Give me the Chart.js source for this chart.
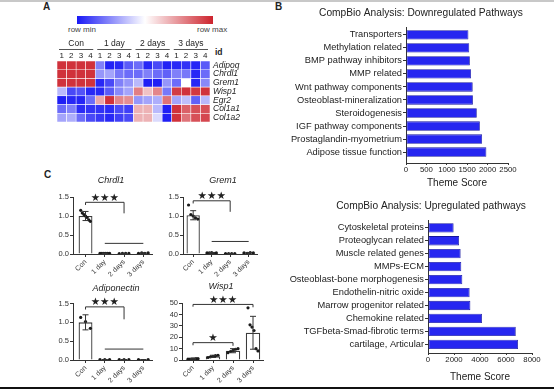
<!DOCTYPE html>
<html>
<head>
<meta charset="utf-8">
<script src="https://cdn.jsdelivr.net/npm/chart.js@4.4.1/dist/chart.umd.min.js"></script>
<style>
  body { margin: 0; background: #fff; }
  #page { position: relative; width: 554px; height: 391px; overflow: hidden; font-family: "Liberation Sans", Arial, sans-serif; color: #222; }
  #page canvas { position: absolute; }
  .txt { position: absolute; white-space: nowrap; line-height: 1; }
  .topline { position: absolute; left: 0; top: 0; width: 554px; height: 2px; background: #c8c8c8; }
  .botline { position: absolute; left: 0; top: 387px; width: 554px; height: 2px; background: #111; }
  .colorbar { position: absolute; left: 77px; top: 16px; width: 136px; height: 8px;
    background: linear-gradient(to right, rgb(25,25,245), #fff 50%, rgb(205,35,45)); }
</style>
</head>
<body>
<div id="page">
  <div class="topline"></div>
  <div class="botline"></div>
  <div class="txt" style="left:43px;top:2px;font-weight:bold;font-size:10px">A</div>
  <div class="txt" style="left:275px;top:2px;font-weight:bold;font-size:10px">B</div>
  <div class="txt" style="left:44px;top:170px;font-weight:bold;font-size:10px">C</div>
  <div class="colorbar"></div>
  <div class="txt" style="left:68px;top:26px;font-size:8px;color:#444">row min</div>
  <div class="txt" style="left:197px;top:26px;font-size:8px;color:#444">row max</div>
  <div class="txt" style="left:215px;top:48px;font-size:8.5px;font-weight:bold">id</div>
  <canvas id="heat" width="200" height="94" style="left:57px;top:36px"></canvas>
  <canvas id="down" width="298" height="190" style="left:272px;top:4px"></canvas>
  <canvas id="up" width="318" height="190" style="left:272px;top:196px"></canvas>
  <canvas id="chrdl1" width="122" height="108" style="left:50px;top:172px"></canvas>
  <canvas id="grem1" width="126" height="108" style="left:160px;top:172px"></canvas>
  <canvas id="adipo" width="132" height="110" style="left:50px;top:278px"></canvas>
  <canvas id="wisp1" width="124" height="110" style="left:159px;top:278px"></canvas>
</div>
<script>
// ---- A: heatmap (row scaled, 0 = row min, 1 = row max) ----
const heatGenes = ['Adipoq', 'Chrdl1', 'Grem1', 'Wisp1', 'Egr2', 'Col1a1', 'Col1a2'];
const heatGroups = ['Con', '1 day', '2 days', '3 days'];
const heatReps = ['1', '2', '3', '4'];
const adipoqRow = [0.95, 0.95, 0.95, 0.95, 0.3, 0.03, 0.05, 0.2, 0.25, 0.05, 0.15, 0.03, 0.05, 0.08, 0.04, 0.2];
const chrdl1Row = [0.95, 0.95, 0.95, 0.95, 0.35, 0.38, 0.28, 0.25, 0.25, 0.3, 0.25, 0.22, 0.3, 0.28, 0.05, 0.25];
const grem1Row = [0.95, 0.95, 0.95, 0.95, 0.05, 0.15, 0.3, 0.35, 0.42, 0.02, 0.02, 0.35, 0.25, 0.5, 0.05, 0.32];
const wisp1Row = [0.42, 0.15, 0.18, 0.05, 0.05, 0.2, 0.32, 0.38, 0.72, 0.57, 0.7, 0.28, 0.92, 0.95, 0.93, 0.95];
const egr2Row = [0.02, 0.05, 0.04, 0.25, 0.62, 0.95, 0.7, 0.68, 0.35, 0.38, 0.4, 0.75, 0.38, 0.43, 0.22, 0.42];
const col1a1Row = [0.25, 0.3, 0.06, 0.08, 0.08, 0.06, 0.15, 0.12, 0.6, 0.6, 0.42, 0.02, 0.95, 0.8, 0.85, 0.85];
const col1a2Row = [0.38, 0.4, 0.25, 0.15, 0.1, 0.05, 0.12, 0.15, 0.6, 0.6, 0.47, 0.02, 0.95, 0.75, 0.85, 0.88];
const heatRows = [adipoqRow, chrdl1Row, grem1Row, wisp1Row, egr2Row, col1a1Row, col1a2Row];

// ---- B: CompBio theme scores ----
const downPathways = ['Transporters', 'Methylation related', 'BMP pathway inhibitors', 'MMP related',
  'Wnt pathway components', 'Osteoblast-mineralization', 'Steroidogenesis', 'IGF pathway components',
  'Prostaglandin-myometrium', 'Adipose tissue function'];
const downScores = [1530, 1550, 1565, 1595, 1635, 1640, 1735, 1810, 1865, 1970];
const upPathways = ['Cytoskeletal proteins', 'Proteoglycan related', 'Muscle related genes', 'MMPs-ECM',
  'Osteoblast-bone morphogenesis', 'Endothelin-nitric oxide', 'Marrow progenitor related',
  'Chemokine related', 'TGFbeta-Smad-fibrotic terms', 'cartilage, Articular'];
const upScores = [1970, 2390, 2510, 2560, 2640, 3200, 3260, 4150, 6750, 6920];

// ---- C: qPCR ----
const timeLabels = ['Con', '1 day', '2 days', '3 days'];
const chrdl1Mean = [1.0, 0.02, 0.015, 0.025];
const chrdl1Sd = [0.12, 0.005, 0.005, 0.008];
const chrdl1Points = [[1.15, 1.08, 1.04, 1.0, 0.96, 0.9, 0.86], [0.02, 0.02, 0.02, 0.02, 0.02, 0.02], [0.01, 0.015, 0.02, 0.015], [0.02, 0.03, 0.02, 0.03]];
const grem1Mean = [1.02, 0.03, 0.01, 0.03];
const grem1Sd = [0.12, 0.008, 0.004, 0.008];
const grem1Points = [[1.29, 1.04, 1.0, 0.95, 0.92], [0.03, 0.03, 0.04, 0.02, 0.03], [0.01, 0.01, 0.01, 0.01], [0.03, 0.02, 0.04, 0.03]];
const adipoMean = [1.0, 0.01, 0.01, 0.01];
const adipoSd = [0.2, 0.003, 0.003, 0.003];
const adipoPoints = [[1.13, 1.02, 0.84], [0.01, 0.01, 0.01], [0.01, 0.01, 0.01], [0.01, 0.01]];
const wisp1Mean = [1.0, 3.2, 8.2, 24];
const wisp1Sd = [0.3, 1.0, 1.8, 14.5];
const wisp1Points = [[0.7, 0.9, 1.0, 1.1, 1.2, 1.3], [2.2, 2.8, 3.3, 3.8, 4.2], [6.5, 7.5, 8.5, 9.5, 10], [46, 31, 29, 26, 10, 8]];

Chart.defaults.font.family = '"Liberation Sans", Arial, sans-serif';
Chart.defaults.color = '#222';
Chart.defaults.animation = false;
Chart.defaults.responsive = false;
Chart.defaults.plugins.legend.display = false;
Chart.defaults.plugins.tooltip.enabled = false;

// blue - white - red, a bit more saturated away from the middle
function heatColor(v) {
    const blue = [25, 25, 245], red = [205, 35, 45];
    const end = v < 0.5 ? blue : red;
    const t = Math.pow(Math.abs(v - 0.5) / 0.5, 0.65);
    const c = end.map(x => Math.round(255 + (x - 255) * t));
    return 'rgb(' + c.join(',') + ')';
}

// empty axis on the right, only used to keep the title centred where the figure has it
function spacerAxis(width) {
    return {
        type: 'linear', position: 'right', display: true,
        grid: { display: false, drawTicks: false }, border: { display: false },
        ticks: { display: false },
        afterFit: s => { s.width = width; }
    };
}

const heatGroupLabels = {
    id: 'heatGroupLabels',
    afterDraw(chart) {
        const { ctx, chartArea } = chart;
        const x = chart.scales.x;
        const half = (x.getPixelForValue(1) - x.getPixelForValue(0)) / 2;
        ctx.save();
        ctx.font = '8.5px "Liberation Sans", Arial, sans-serif';
        ctx.fillStyle = '#222';
        ctx.strokeStyle = '#555';
        ctx.lineWidth = 1;
        ctx.textAlign = 'center';
        ctx.textBaseline = 'middle';
        heatGroups.forEach((g, k) => {
            const l = x.getPixelForValue(k * 4) - half + 2;
            const r = x.getPixelForValue(k * 4 + 3) + half - 2;
            ctx.beginPath();
            ctx.moveTo(l, chartArea.top - 11.5);
            ctx.lineTo(r, chartArea.top - 11.5);
            ctx.stroke();
            ctx.fillText(g, (l + r) / 2, chartArea.top - 17);
        });
        ctx.restore();
    }
};

new Chart(document.getElementById('heat'), {
    type: 'bar',
    data: {
        labels: heatGroups.flatMap(() => heatReps),
        datasets: heatRows.map((row, r) => ({
            label: heatGenes[r],
            data: row.map(() => 1),
            backgroundColor: row.map(heatColor),
            borderColor: '#fff',
            borderWidth: 0.6,
            borderSkipped: false,
            barPercentage: 1,
            categoryPercentage: 1
        }))
    },
    options: {
        layout: { padding: { left: 0, right: 0, top: 0, bottom: 2 } },
        scales: {
            x: {
                stacked: true, position: 'top',
                grid: { display: false, drawTicks: false }, border: { display: false },
                ticks: { font: { size: 8 }, color: '#222', padding: 0, maxRotation: 0, autoSkip: false },
                afterFit: s => { s.height = 25; }
            },
            y: {
                stacked: true, position: 'right', min: 0, max: 7, reverse: true,
                grid: { display: false, drawTicks: false }, border: { display: false },
                afterBuildTicks: s => { s.ticks = heatGenes.map((g, i) => ({ value: i + 0.5 })); },
                ticks: { callback: (v, i) => heatGenes[i], font: { size: 8.5, style: 'italic' }, color: '#222', padding: 3, autoSkip: false },
                afterFit: s => { s.width = 47; }
            }
        }
    },
    plugins: [heatGroupLabels]
});

function pathwayChart(canvasId, title, names, scores, xMax, xStep, box) {
    return new Chart(document.getElementById(canvasId), {
        type: 'bar',
        data: {
            datasets: [{
                data: scores.map((v, i) => ({ x: v, y: i })),
                backgroundColor: '#2626f0',
                borderColor: '#16169e',
                borderWidth: 0.8,
                borderSkipped: false,
                barPercentage: 0.72,
                categoryPercentage: 1
            }]
        },
        options: {
            indexAxis: 'y',
            layout: { padding: 0 },
            plugins: {
                title: {
                    display: true, text: title, color: '#222',
                    font: { size: 10.2, weight: 'normal' },
                    padding: { top: box.titleTop, bottom: box.titleBottom }
                }
            },
            scales: {
                x: {
                    type: 'linear', min: 0, max: xMax,
                    ticks: { stepSize: xStep, callback: v => String(v), font: { size: 7.8 }, color: '#222', padding: 0, maxRotation: 0 },
                    grid: { drawOnChartArea: false, tickLength: 2, color: '#333' },
                    border: { color: '#333' },
                    title: { display: true, text: 'Theme Score', font: { size: 10 }, color: '#222', padding: { top: 0, bottom: box.scoreBottom } },
                    afterFit: s => { s.height = box.xH; }
                },
                y: {
                    type: 'linear', reverse: true, min: -0.6, max: box.yMax, offset: false,
                    afterBuildTicks: s => { s.ticks = names.map((n, i) => ({ value: i })); },
                    ticks: { callback: (v, i) => names[i], font: { size: 9.3 }, color: '#222', padding: 1, autoSkip: false },
                    grid: { drawOnChartArea: false, tickLength: 3, color: '#333', offset: false },
                    border: { color: '#333' },
                    afterFit: s => { s.width = box.yW; }
                },
                pad: spacerAxis(box.padR)
            }
        }
    });
}

pathwayChart('down', 'CompBio Analysis: Downregulated Pathways', downPathways, downScores, 2500, 500,
    { padR: 62, yW: 134, titleTop: 2.9, titleBottom: 7.9, xH: 31, scoreBottom: 5, yMax: 9.84 });
pathwayChart('up', 'CompBio Analysis: Upregulated pathways', upPathways, upScores, 8000, 2000,
    { padR: 58, yW: 156, titleTop: 3.9, titleBottom: 7.9, xH: 33, scoreBottom: 3, yMax: 9.67 });

// error bars, significance brackets
const qpcrMarks = {
    id: 'qpcrMarks',
    afterDatasetsDraw(chart, args, opts) {
        const { ctx } = chart;
        const x = chart.scales.x, y = chart.scales.y;
        ctx.save();
        ctx.strokeStyle = '#333';
        ctx.lineWidth = 1;
        opts.mean.forEach((m, i) => {
            const px = x.getPixelForValue(i);
            const top = y.getPixelForValue(m + opts.sd[i]);
            const bot = y.getPixelForValue(Math.max(0, m - opts.sd[i]));
            ctx.beginPath();
            ctx.moveTo(px, top); ctx.lineTo(px, bot);
            ctx.moveTo(px - 3, top); ctx.lineTo(px + 3, top);
            ctx.moveTo(px - 3, bot); ctx.lineTo(px + 3, bot);
            ctx.stroke();
        });
        ctx.fillStyle = '#222';
        ctx.textAlign = 'center';
        ctx.textBaseline = 'bottom';
        ctx.font = '10.5px "DejaVu Sans", sans-serif';
        opts.marks.forEach(mk => {
            const x1 = x.getPixelForValue(mk.from), x2 = x.getPixelForValue(mk.to);
            const py = y.getPixelForValue(mk.y);
            ctx.beginPath();
            if (mk.dropL !== undefined) { ctx.moveTo(x1, y.getPixelForValue(mk.dropL)); ctx.lineTo(x1, py); }
            else ctx.moveTo(x1, py);
            ctx.lineTo(x2, py);
            if (mk.dropR !== undefined) ctx.lineTo(x2, y.getPixelForValue(mk.dropR));
            ctx.stroke();
            if (mk.text) ctx.fillText(mk.text, (x1 + x2) / 2, py + 1);
        });
        ctx.restore();
    }
};

function spread(j, n) {
    return n > 1 ? (j / (n - 1) - 0.5) * 0.5 : 0;
}

function qpcrChart(canvasId, title, mean, sd, points, yMax, yStep, decimals, marks, box) {
    return new Chart(document.getElementById(canvasId), {
        type: 'bar',
        data: {
            datasets: [
                {
                    type: 'bar', data: mean.map((v, i) => ({ x: i, y: v })),
                    backgroundColor: '#fff', borderColor: '#3c3c3c', borderWidth: 1.3,
                    barPercentage: 0.72, categoryPercentage: 1, order: 2
                },
                {
                    type: 'scatter',
                    data: points.flatMap((grp, i) => grp.map((v, j) => ({ x: i + spread(j, grp.length), y: v }))),
                    pointBackgroundColor: '#1a1a1a', pointBorderWidth: 0, pointRadius: 1.6, order: 1
                }
            ]
        },
        options: {
            layout: { padding: 0 },
            plugins: {
                title: {
                    display: true, text: title, color: '#222',
                    font: { size: 9, style: 'italic', weight: 'normal' },
                    padding: { top: box.titleTop, bottom: box.titleBottom }
                },
                qpcrMarks: { mean, sd, marks }
            },
            scales: {
                x: {
                    type: 'linear', min: box.xMin, max: box.xMax, offset: false,
                    afterBuildTicks: s => { s.ticks = timeLabels.map((t, i) => ({ value: i })); },
                    ticks: { callback: (v, i) => timeLabels[i], autoSkip: false, maxRotation: 45, minRotation: 45, font: { size: 7 }, color: '#333', padding: 1 },
                    grid: { drawOnChartArea: false, tickLength: 3, color: '#333', offset: false },
                    border: { color: '#333' },
                    afterFit: s => { s.height = box.xH; }
                },
                y: {
                    min: 0, max: yMax,
                    ticks: { stepSize: yStep, autoSkip: false, callback: v => v.toFixed(decimals), font: { size: 7.5 }, color: '#333', padding: 1 },
                    grid: { drawOnChartArea: false, tickLength: 3, color: '#333' },
                    border: { color: '#333' },
                    afterFit: s => { s.width = 23; }
                },
                pad: spacerAxis(box.padR)
            }
        },
        plugins: [qpcrMarks]
    });
}

qpcrChart('chrdl1', 'Chrdl1', chrdl1Mean, chrdl1Sd, chrdl1Points, 1.5, 0.5, 1,
    [{ from: 0, to: 2, y: 1.36, dropL: 1.29, dropR: 1.07, text: '★★★' }, { from: 1, to: 3, y: 0.28 }],
    { padR: 20, titleTop: 2.7, titleBottom: 11.5, xH: 26, xMin: -0.65, xMax: 3.45 });
qpcrChart('grem1', 'Grem1', grem1Mean, grem1Sd, grem1Points, 1.5, 0.5, 1,
    [{ from: 0, to: 2, y: 1.40, dropL: 1.33, dropR: 1.11, text: '★★★' }, { from: 1, to: 3, y: 0.33 }],
    { padR: 29, titleTop: 2.7, titleBottom: 11.5, xH: 26, xMin: -0.55, xMax: 3.45 });
qpcrChart('adipo', 'Adiponectin', adipoMean, adipoSd, adipoPoints, 1.5, 0.5, 1,
    [{ from: 0, to: 2, y: 1.41, dropL: 1.34, dropR: 1.08, text: '★★★' }, { from: 1, to: 3, y: 0.29 }],
    { padR: 30, titleTop: 4.6, titleBottom: 10.1, xH: 28, xMin: -0.65, xMax: 3.45 });
qpcrChart('wisp1', 'Wisp1', wisp1Mean, wisp1Sd, wisp1Points, 50, 10, 0,
    [{ from: 0, to: 3, y: 49, dropL: 47, dropR: 46.5, text: '★★★' }, { from: 0, to: 2, y: 15.3, dropL: 13, dropR: 12.5, text: '★' }],
    { padR: 20, titleTop: 2.6, titleBottom: 11.9, xH: 28, xMin: -0.55, xMax: 3.5 });
</script>
</body>
</html>
